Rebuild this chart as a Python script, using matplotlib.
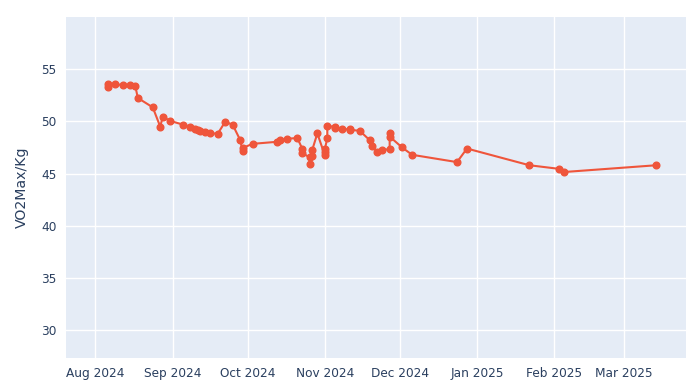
import matplotlib
matplotlib.use("Agg")
import matplotlib.pyplot as plt
import matplotlib.dates as mdates
import pandas as pd

dates = [
    "2024-08-06", "2024-08-06", "2024-08-09", "2024-08-12", "2024-08-15", "2024-08-17",
    "2024-08-18", "2024-08-24", "2024-08-27", "2024-08-28", "2024-08-31", "2024-09-05",
    "2024-09-08", "2024-09-10", "2024-09-11", "2024-09-12", "2024-09-14", "2024-09-16",
    "2024-09-19", "2024-09-22", "2024-09-25", "2024-09-28", "2024-09-29", "2024-09-29",
    "2024-10-03", "2024-10-13", "2024-10-14", "2024-10-17", "2024-10-21", "2024-10-23",
    "2024-10-23", "2024-10-26", "2024-10-26", "2024-10-27", "2024-10-27", "2024-10-29",
    "2024-11-01", "2024-11-01", "2024-11-01", "2024-11-02", "2024-11-02", "2024-11-05",
    "2024-11-05", "2024-11-08", "2024-11-11", "2024-11-11", "2024-11-15", "2024-11-19",
    "2024-11-20", "2024-11-22", "2024-11-24", "2024-11-27", "2024-11-27", "2024-11-27",
    "2024-12-02", "2024-12-06", "2024-12-24", "2024-12-28", "2025-01-22", "2025-02-03",
    "2025-02-05", "2025-03-14",
]
vo2max = [
    53.3, 53.6, 53.55, 53.5, 53.45, 53.4,
    52.25, 51.35, 49.5, 50.45, 50.05, 49.7,
    49.5, 49.3, 49.2, 49.1, 49.0, 48.9,
    48.8, 49.95, 49.7, 48.25, 47.2, 47.45,
    47.85, 48.05, 48.2, 48.35, 48.4, 47.35,
    46.95, 46.55, 45.95, 46.7, 47.3, 48.85,
    46.75, 47.05, 47.35, 48.4, 49.55, 49.5,
    49.35, 49.25, 49.25, 49.2, 49.1, 48.2,
    47.6, 47.1, 47.25, 47.35, 48.85, 48.55,
    47.5, 46.8, 46.1, 47.4, 45.8, 45.45,
    45.15, 45.8,
]
x_ticks = ["2024-08-01", "2024-09-01", "2024-10-01", "2024-11-01", "2024-12-01",
           "2025-01-01", "2025-02-01", "2025-03-01"]
y_ticks = [30, 35, 40, 45, 50, 55]

plt.rcParams["font.family"] = ["DejaVu Sans"]
text_color = "#2a3f5f"

fig = plt.figure(figsize=(6.9, 3.87), dpi=100)
ax = fig.add_axes([66 / 690, 1 - 358.3 / 387, 620 / 690, (358.3 - 16.7) / 387])
ax.set_facecolor("#E5ECF6")

x = pd.to_datetime(dates)
ax.plot(x, vo2max, color="#EF553B", linewidth=1.5, marker="o", markersize=4.8,
        zorder=3)

ax.set_xlim(pd.Timestamp("2024-07-20 05:00"), pd.Timestamp("2025-03-25 20:00"))
ax.set_ylim(27.29, 60.04)
ax.set_xticks(pd.to_datetime(x_ticks))
ax.xaxis.set_major_formatter(mdates.DateFormatter("%b %Y"))
ax.set_yticks(y_ticks)

ax.grid(True, color="white", linewidth=1.0)
ax.set_axisbelow(True)
for s in ax.spines.values():
    s.set_visible(False)
ax.tick_params(length=0, labelsize=8.7, colors=text_color, pad=6)
ax.tick_params(axis="y", pad=7)
ax.set_ylabel("VO2Max/Kg", fontsize=10.2, color=text_color, labelpad=9)

fig.savefig("out.png", dpi=100)
